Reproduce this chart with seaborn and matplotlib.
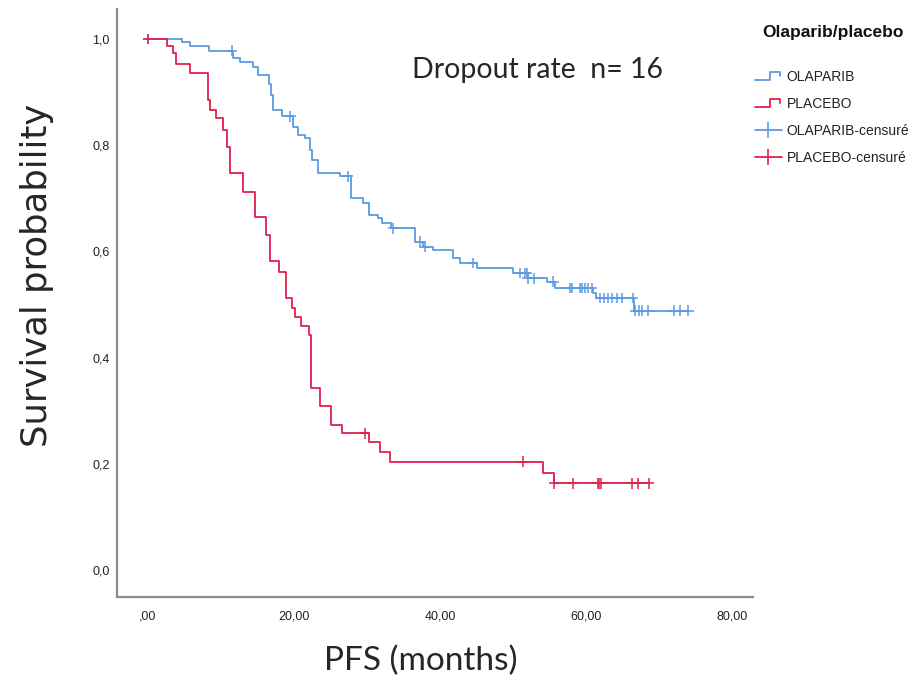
import matplotlib
matplotlib.use("Agg")
import matplotlib.pyplot as plt
import seaborn as sns
import numpy as np
import pandas as pd
from matplotlib.lines import Line2D
from matplotlib.legend_handler import HandlerBase

# Kaplan-Meier step points (time in months, survival after the drop)
ola_times = [0, 4.6, 5.75, 8.4, 11.7, 12.6, 14.4, 15.1, 16.6, 16.9, 17.1, 18.3, 19.9,
             20.5, 21.5, 22.2, 22.5, 23.3, 26.3, 27.8, 29.5, 30.2, 31.5, 32.0, 33.3,
             36.6, 37.7, 39.0, 41.8, 42.7, 45.1, 50.0, 52.0, 54.7, 55.8, 61.0, 61.3,
             66.5, 74.0]
ola_surv = [1.0, 0.994, 0.987, 0.978, 0.964, 0.956, 0.948, 0.932, 0.915, 0.895, 0.866,
            0.854, 0.835, 0.819, 0.813, 0.79, 0.772, 0.748, 0.741, 0.700, 0.691, 0.669,
            0.662, 0.653, 0.643, 0.618, 0.609, 0.603, 0.587, 0.578, 0.568, 0.559, 0.549,
            0.543, 0.531, 0.521, 0.512, 0.488, 0.488]
ola_censor = [0, 11.5, 19.5, 27.4, 33.6, 37.3, 37.9, 44.5, 51.0, 51.6, 51.9, 52.0, 52.8,
              55.5, 57.8, 58.0, 59.2, 59.4, 59.9, 60.3, 60.8, 61.9, 62.4, 63.0, 63.5,
              64.2, 64.9, 66.4, 66.7, 67.2, 67.6, 68.5, 72.0, 72.9, 74.0]

pla_times = [0, 2.6, 3.4, 3.8, 5.75, 8.2, 8.5, 9.3, 10.3, 10.8, 11.2, 13.0, 14.7, 16.2,
             16.7, 17.9, 18.9, 19.7, 20.1, 21.0, 22.0, 22.3, 23.6, 25.1, 26.6, 30.3,
             31.8, 33.2, 54.1, 55.6, 68.6]
pla_surv = [1.0, 0.986, 0.973, 0.952, 0.935, 0.885, 0.866, 0.851, 0.829, 0.797, 0.747,
            0.712, 0.665, 0.631, 0.581, 0.562, 0.512, 0.493, 0.477, 0.460, 0.443, 0.342,
            0.308, 0.273, 0.257, 0.240, 0.222, 0.204, 0.183, 0.163, 0.163]
pla_censor = [0, 29.7, 51.4, 55.6, 58.2, 61.6, 61.8, 62.1, 66.3, 67.1, 68.6]

groups = ["OLAPARIB", "PLACEBO"]
colors = {"OLAPARIB": "#5b9be3", "PLACEBO": "#e0204f"}
x_ticks = [0, 20, 40, 60, 80]
x_tick_labels = [",00", "20,00", "40,00", "60,00", "80,00"]
y_ticks = [0.0, 0.2, 0.4, 0.6, 0.8, 1.0]
y_tick_labels = ["0,0", "0,2", "0,4", "0,6", "0,8", "1,0"]

curves = pd.concat([
    pd.DataFrame({"t": ola_times, "s": ola_surv, "group": "OLAPARIB"}),
    pd.DataFrame({"t": pla_times, "s": pla_surv, "group": "PLACEBO"}),
])


def surv_at(times, surv, t):
    # value of the step curve at time t
    idx = np.searchsorted(times, t, side="right") - 1
    return np.asarray(surv)[idx]


censors = pd.concat([
    pd.DataFrame({"t": ola_censor, "s": surv_at(ola_times, ola_surv, ola_censor),
                  "group": "OLAPARIB"}),
    pd.DataFrame({"t": pla_censor, "s": surv_at(pla_times, pla_surv, pla_censor),
                  "group": "PLACEBO"}),
])


class StepHandler(HandlerBase):
    """Small step-shaped legend key, like SPSS survival plots"""
    def create_artists(self, legend, orig_handle, xdescent, ydescent, width, height,
                       fontsize, trans):
        xs = np.array([0, 0.55, 0.55, 0.92, 0.92]) * width - xdescent
        ys = np.array([0.1, 0.1, 0.85, 0.85, 0.45]) * height - ydescent
        return [Line2D(xs, ys, color=orig_handle.get_color(),
                       lw=orig_handle.get_linewidth(), transform=trans)]


sns.set_style("white")
plt.rcParams["font.family"] = ["Liberation Sans", "DejaVu Sans"]

fig = plt.figure(figsize=(9.23, 6.87), dpi=100)
ax = fig.add_axes([0.1264, 0.131, 0.689, 0.856])

sns.lineplot(data=curves, x="t", y="s", hue="group", palette=colors, ax=ax,
             drawstyle="steps-post", estimator=None, sort=False, lw=1.3, legend=False)
sns.scatterplot(data=censors, x="t", y="s", hue="group", palette=colors, ax=ax,
                marker="+", s=60, linewidth=1.1, legend=False, zorder=3)

ax.set_xlim(-4.29, 82.8)
ax.set_ylim(-0.051, 1.0565)
ax.set_xticks(x_ticks)
ax.set_xticklabels(x_tick_labels)
ax.set_yticks(y_ticks)
ax.set_yticklabels(y_tick_labels)
ax.tick_params(axis="both", length=0, labelsize=9, colors="#222222")
ax.tick_params(axis="x", pad=10)
ax.tick_params(axis="y", pad=5)

for side in ["top", "right"]:
    ax.spines[side].set_visible(False)
for side in ["left", "bottom"]:
    ax.spines[side].set_color("#8c8c8c")
    ax.spines[side].set_linewidth(1.6)

ax.set_xlabel("PFS (months)", fontsize=24, family="Lato")
ax.set_ylabel("Survival probability", fontsize=25.5, family="DejaVu Sans")
ax.xaxis.set_label_coords(0.478, -0.082)
ax.yaxis.set_label_coords(-0.098, 0.547)

ax.text(0.662, 0.883, "Dropout rate  n= 16", transform=ax.transAxes, fontsize=20.5,
        family="Lato", ha="center", va="baseline")

# legend: title placed on its own, entries below
fig.text(762 / 923, 1 - 33 / 687, "Olaparib/placebo", fontsize=12.5, weight="bold",
         ha="left", va="center", color="#111111")
handles = [
    Line2D([], [], color=colors["OLAPARIB"], lw=1.3),
    Line2D([], [], color=colors["PLACEBO"], lw=1.3),
    Line2D([], [], color=colors["OLAPARIB"], lw=1.3, marker="|", markersize=12, mew=1.2),
    Line2D([], [], color=colors["PLACEBO"], lw=1.3, marker="|", markersize=12, mew=1.2),
]
labels = ["OLAPARIB", "PLACEBO", "OLAPARIB-censuré", "PLACEBO-censuré"]
leg = fig.legend(handles, labels, loc="upper left", bbox_to_anchor=(0.804, 0.917),
                 fontsize=10, frameon=False, handlelength=2.0, handletextpad=0.3,
                 labelspacing=0.94,
                 handler_map={handles[0]: StepHandler(), handles[1]: StepHandler()})
for txt in leg.get_texts():
    txt.set_color("#222222")

fig.savefig("out.png", dpi=100)
